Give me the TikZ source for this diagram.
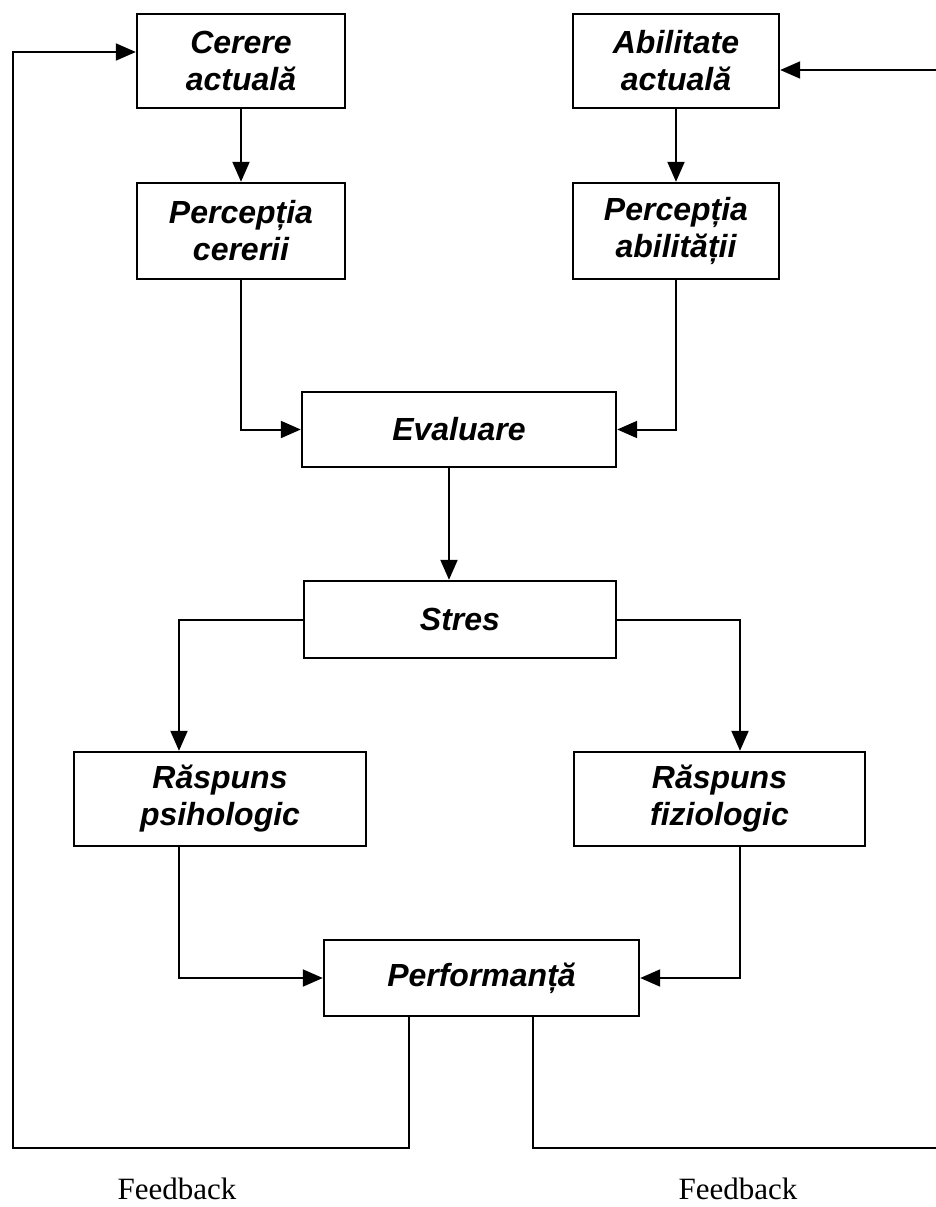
\documentclass[tikz,border=0pt]{standalone}
\usepackage{fontspec}
\setmainfont{Liberation Serif}
\setsansfont{Liberation Sans}
\usepackage{tikz}
\usetikzlibrary{arrows.meta, positioning, calc}

\tikzset{
  box/.style={draw, line width=2.4pt, inner sep=0pt, align=center,
    font=\sffamily\bfseries\itshape\fontsize{32}{37}\selectfont},
  flow/.style={line width=2pt, -{Triangle[length=20pt, width=17pt]}},
  fblabel/.style={anchor=base, font=\rmfamily\fontsize{31}{36}\selectfont},
}

\begin{document}
\begin{tikzpicture}[x=1pt, y=-1pt]
  \useasboundingbox (0,0) rectangle (936,1207);

  % top row
  \node[box, minimum width=208pt, minimum height=94pt] (cerere) at (241,61) {Cerere\\actuală};
  \node[box, minimum width=206pt, minimum height=94pt] (abil) at (676,61) {Abilitate\\actuală};
  \node[box, minimum width=208pt, minimum height=96pt] (percc) at (241,231) {Percepția\\cererii};
  \node[box, minimum width=206pt, minimum height=96pt] (perca) at (676,231) {Percepția\\abilității};

  % middle
  \node[box, minimum width=314pt, minimum height=75pt] (eval) at (459,429.5) {Evaluare};
  \node[box, minimum width=312pt, minimum height=77pt] (stres) at (460,619.5) {Stres};
  \node[box, minimum width=292pt, minimum height=94pt] (rpsi) at (220,799) {Răspuns\\psihologic};
  \node[box, minimum width=291pt, minimum height=94pt] (rfiz) at (719.5,799) {Răspuns\\fiziologic};
  \node[box, minimum width=315pt, minimum height=76pt] (perf) at (481.5,978) {Performanță};

  % feedback loops
  \coordinate (fbl) at (13,1148);
  \coordinate (fbr) at (945,1148);
  \node[fblabel] (fbtxtl) at (177,1199) {Feedback};
  \node[fblabel] (fbtxtr) at (738,1199) {Feedback};

  \draw[flow] (cerere) -- (percc);
  \draw[flow] (abil) -- (perca);
  \draw[flow] (percc.south) |- (eval.west);
  \draw[flow] (perca.south) |- (eval.east);
  \draw[flow] ([xshift=-10pt]eval.south) -- ([xshift=-11pt]stres.north);
  \draw[flow] (stres.west) -| ([xshift=-41pt]rpsi.north);
  \draw[flow] (stres.east) -| ([xshift=20.5pt]rfiz.north);
  \draw[flow] ([xshift=-41pt]rpsi.south) |- (perf.west);
  \draw[flow] ([xshift=20.5pt]rfiz.south) |- (perf.east);
  \draw[flow] ([xshift=-73pt]perf.south) |- (fbl) |- ([yshift=9pt]cerere.west);
  \draw[flow] ([xshift=51pt]perf.south) |- (fbr) |- ([yshift=-9pt]abil.east);
\end{tikzpicture}
\end{document}
